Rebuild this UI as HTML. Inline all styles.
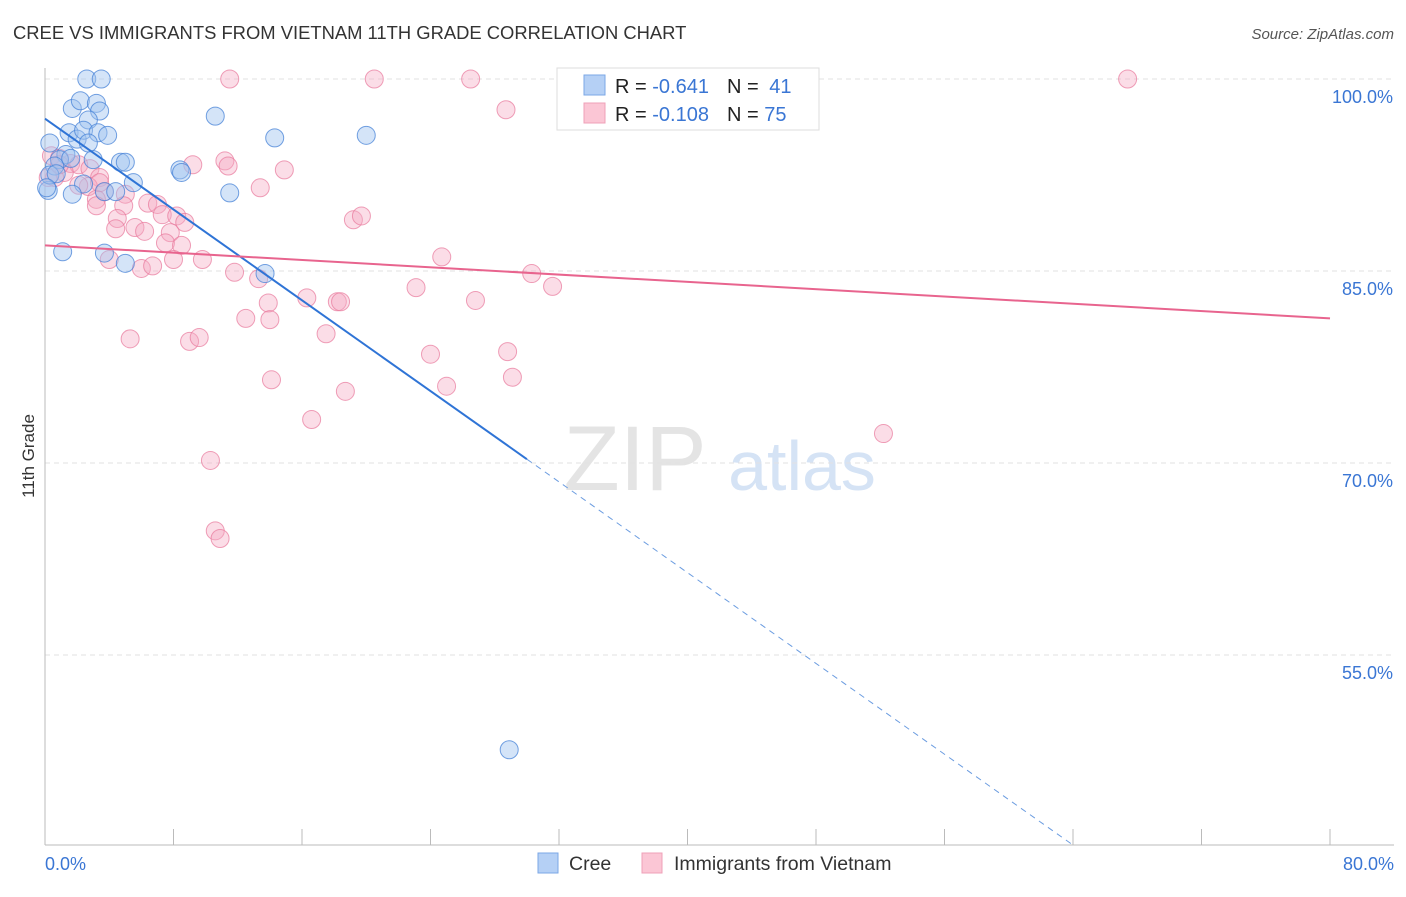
<!DOCTYPE html>
<html><head><meta charset="utf-8"><style>
body{margin:0;background:#fff;font-family:"Liberation Sans",sans-serif;}
svg text{font-family:"Liberation Sans",sans-serif;}
</style></head><body>
<svg id="chart" width="1406" height="892" viewBox="0 0 1406 892" xmlns="http://www.w3.org/2000/svg">
<text x="13" y="39" font-size="18.4" fill="#333">CREE VS IMMIGRANTS FROM VIETNAM 11TH GRADE CORRELATION CHART</text>
<text x="1394" y="39" font-size="15" fill="#555" text-anchor="end" font-style="italic">Source: ZipAtlas.com</text>
<text transform="translate(34,456) rotate(-90)" font-size="17" fill="#333" text-anchor="middle">11th Grade</text>
<g>
<text x="635" y="490" font-size="92" fill="#e4e4e4" text-anchor="middle" font-family="Liberation Serif">ZIP</text>
<text x="802" y="490" font-size="70" fill="#d5e3f5" text-anchor="middle">atlas</text>
</g>
<g id="grid"></g>
<g id="axes"></g>
<g id="points"></g>
<g id="trends"></g>
<g>
<rect x="557" y="68" width="262" height="62" fill="#fff" stroke="#ddd"/>
<rect x="584" y="75" width="21" height="20" fill="#b5d0f5" stroke="#7ba7e6"/>
<rect x="584" y="103" width="21" height="20" fill="#fbc6d5" stroke="#efa0b8"/>
<text x="615" y="93" font-size="20" fill="#222">R = <tspan fill="#3a76d4">-0.641</tspan><tspan dx="18">N = </tspan><tspan fill="#3a76d4" dx="5">41</tspan></text>
<text x="615" y="121" font-size="20" fill="#222">R = <tspan fill="#3a76d4">-0.108</tspan><tspan dx="18">N = </tspan><tspan fill="#3a76d4">75</tspan></text>
</g>
<g>
<rect x="538" y="853" width="20" height="20" fill="#b5d0f5" stroke="#7ba7e6"/>
<text x="569" y="870" font-size="19.5" fill="#333">Cree</text>
<rect x="642" y="853" width="20" height="20" fill="#fbc6d5" stroke="#efa0b8"/>
<text x="674" y="870" font-size="19.5" fill="#333">Immigrants from Vietnam</text>
</g>
</svg>
<script>
const yTicks=[100,85,70,55];
const yTickLabels=["100.0%","85.0%","70.0%","55.0%"];
const xEndLabels=["0.0%","80.0%"];
const creeX=[2.6,3.5,1.7,2.2,3.2,3.4,2.7,1.5,2.0,2.4,3.3,3.9,10.6,14.3,20.0,0.3,2.7,1.3,0.9,3.0,4.7,5.0,8.4,8.5,0.6,2.4,5.5,3.7,4.4,1.7,11.5,0.2,0.3,1.1,3.7,5.0,13.7,28.9,1.6,0.7,0.1];
const creeY=[100,100,97.7,98.3,98.1,97.5,96.8,95.8,95.3,96.0,95.8,95.6,97.1,95.4,95.6,95.0,95.0,94.1,93.7,93.7,93.5,93.5,92.9,92.7,93.2,91.8,91.9,91.2,91.2,91.0,91.1,91.3,92.5,86.5,86.4,85.6,84.8,47.6,93.8,92.6,91.5];
const vietX=[11.5,20.5,26.5,67.4,28.7,0.4,0.9,1.6,2.1,2.8,1.2,3.4,0.6,2.7,3.7,3.2,3.2,5.0,4.9,6.4,7.0,7.3,8.2,8.7,4.5,4.4,5.6,6.2,7.8,7.5,8.5,4.0,6.0,6.7,8.0,9.8,11.2,11.4,9.2,14.9,13.4,19.2,19.7,11.8,13.3,13.9,12.5,14.0,16.3,18.2,18.4,23.1,26.8,24.7,30.3,31.6,17.5,5.3,9.0,9.6,24.0,28.8,14.1,18.7,25.0,29.1,16.6,52.2,10.3,10.6,10.9,0.2,3.4,2.1,0.9];
const vietY=[100,100,100,100,97.6,94.0,93.8,93.4,93.3,93.0,92.7,92.3,92.3,91.6,91.2,90.6,90.1,91.0,90.1,90.3,90.2,89.4,89.3,88.8,89.1,88.3,88.4,88.1,88.0,87.2,87.0,85.9,85.2,85.4,85.9,85.9,93.6,93.2,93.3,92.9,91.5,89.0,89.3,84.9,84.4,82.5,81.3,81.2,82.9,82.6,82.6,83.7,82.7,86.1,84.8,83.8,80.1,79.7,79.5,79.8,78.5,78.7,76.5,75.6,76.0,76.7,73.4,72.3,70.2,64.7,64.1,92.3,91.9,91.7,93.3];
const creeTrend=[96.9,70.3]; // y at x=0 and x=30
const vietTrend=[87.0,81.3];  // y at x=0 and x=80
const NS="http://www.w3.org/2000/svg";
const X=v=>45+v*(1285/80);
const Y=v=>79+(100-v)*12.8;
function mk(tag,attrs,parent){const e=document.createElementNS(NS,tag);for(const k in attrs)e.setAttribute(k,attrs[k]);parent.appendChild(e);return e;}
const grid=document.getElementById('grid'),axes=document.getElementById('axes'),pts=document.getElementById('points'),tr=document.getElementById('trends');
yTicks.forEach((t,i)=>{
  const l=mk('line',{x1:45,x2:1394,y1:Y(t),y2:Y(t),stroke:'#e2e2e2','stroke-dasharray':'5,4'},grid);
  
  
  const tx=mk('text',{x:1393,y:Y(t)+24,'font-size':18,fill:'#3a76d4','text-anchor':'end'},axes);
  tx.textContent=yTickLabels[i];
  
  
});
const ya=mk('line',{x1:45,x2:45,y1:68,y2:845,stroke:'#bbb'},axes);


const xa=mk('line',{x1:45,x2:1394,y1:845,y2:845,stroke:'#bbb'},axes);


for(let i=0;i<=10;i++){
  const t=mk('line',{x1:X(i*8),x2:X(i*8),y1:829,y2:845,stroke:'#bbb'},axes);
  
  
}
const xl0=mk('text',{x:45,y:870,'font-size':18,fill:'#3a76d4'},axes);xl0.textContent=xEndLabels[0];


const xl1=mk('text',{x:1394,y:870,'font-size':18,fill:'#3a76d4','text-anchor':'end'},axes);xl1.textContent=xEndLabels[1];


vietX.forEach((v,i)=>{
  const c=mk('circle',{cx:X(v),cy:Y(vietY[i]),r:9,fill:'rgba(246,170,195,0.4)',stroke:'rgba(232,120,155,0.7)','stroke-width':1},pts);
  
  
});
creeX.forEach((v,i)=>{
  const c=mk('circle',{cx:X(v),cy:Y(creeY[i]),r:9,fill:'rgba(160,195,240,0.45)',stroke:'rgba(70,130,215,0.75)','stroke-width':1},pts);
  
  
});
const slope=(creeTrend[1]-creeTrend[0])/30;
const xEnd=(40.2-creeTrend[0])/slope;
const b1=mk('line',{x1:X(0),y1:Y(creeTrend[0]),x2:X(30),y2:Y(creeTrend[1]),stroke:'#2f74d6','stroke-width':2},tr);


const b2=mk('line',{x1:X(30),y1:Y(creeTrend[1]),x2:X(xEnd),y2:Y(40.2),stroke:'#6b9ce0','stroke-width':1,'stroke-dasharray':'6,5'},tr);


const p1=mk('line',{x1:X(0),y1:Y(vietTrend[0]),x2:X(80),y2:Y(vietTrend[1]),stroke:'#e8648e','stroke-width':2},tr);


</script>
</body></html>
